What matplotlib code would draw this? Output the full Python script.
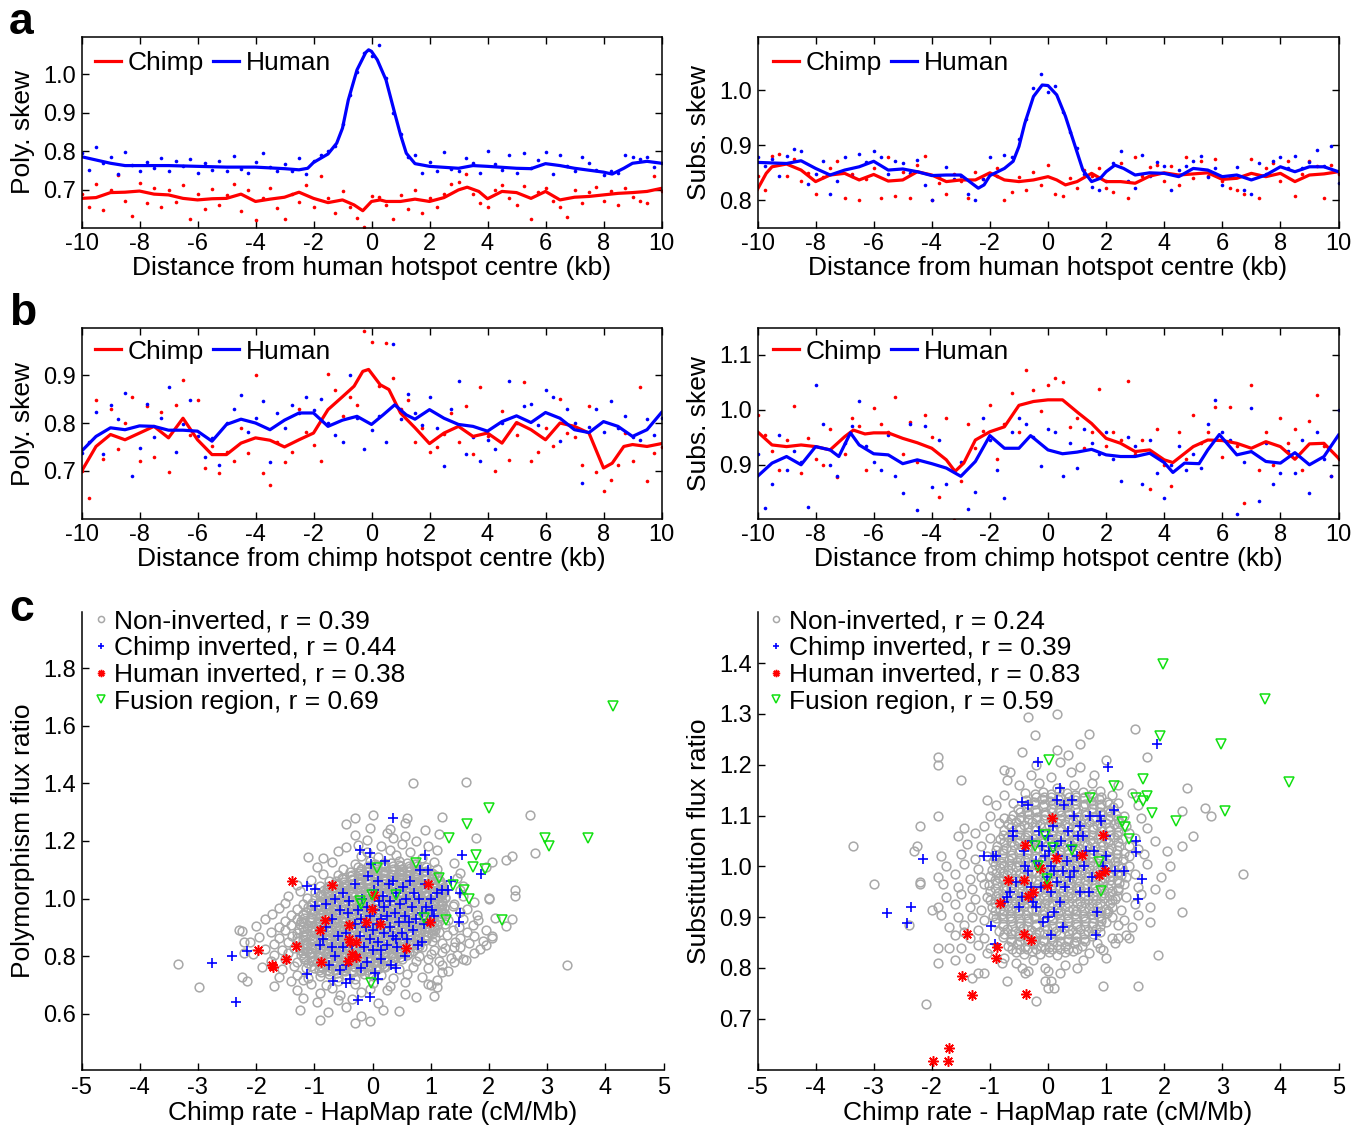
import numpy as np
import matplotlib
matplotlib.use("Agg")
import matplotlib.pyplot as plt
from matplotlib.ticker import FormatStrFormatter

plt.rcParams["font.family"] = ["Liberation Sans", "DejaVu Sans"]
plt.rcParams["axes.unicode_minus"] = False
TICK_FS = 17
LABEL_FS = 19
LEG_FS = 19
RED = (1, 0, 0)
BLUE = (0, 0, 1)
GREEN = "#11e011"
GRAY = "#a8a8a8"

# ---------------- panel a / b : smoothed skew profiles ----------------
dot_x = np.arange(-10, 10.001, 0.25)

a_poly_human_x = [-10, -9, -8.5, -8, -7, -6, -5, -4, -3, -2.5, -2.2, -2, -1.5, -1.2, -1, -0.8, -0.5, -0.2, -0.1, 0,
                  0.2, 0.5, 0.8, 1, 1.2, 1.5, 2, 3, 3.5, 4, 5, 5.5, 6, 6.5, 7, 8, 8.3, 8.7, 9, 9.5, 10]
a_poly_human_y = [0.786, 0.769, 0.763, 0.763, 0.763, 0.761, 0.759, 0.759, 0.755, 0.752, 0.756, 0.771, 0.793, 0.821,
                  0.860, 0.933, 1.011, 1.056, 1.063, 1.059, 1.037, 0.985, 0.899, 0.843, 0.795, 0.768, 0.761, 0.756,
                  0.763, 0.761, 0.756, 0.755, 0.768, 0.763, 0.756, 0.746, 0.741, 0.756, 0.769, 0.774, 0.769]
a_poly_chimp_x = [-10, -9.5, -9, -8.5, -8, -7.5, -7, -6.5, -6, -5.5, -5, -4.5, -4, -3.5, -3, -2.5, -2, -1.5, -1, -0.6,
                  -0.3, 0, 0.3, 0.5, 1, 1.5, 2, 2.5, 3, 3.3, 3.7, 4, 4.5, 5, 5.5, 6, 6.5, 7, 7.5, 8, 8.5, 9, 9.5, 10]
a_poly_chimp_y = [0.678, 0.680, 0.693, 0.694, 0.697, 0.689, 0.687, 0.678, 0.674, 0.677, 0.678, 0.689, 0.670, 0.676,
                  0.681, 0.694, 0.678, 0.667, 0.674, 0.661, 0.646, 0.670, 0.674, 0.670, 0.670, 0.676, 0.670, 0.680,
                  0.700, 0.707, 0.696, 0.677, 0.696, 0.693, 0.678, 0.696, 0.674, 0.681, 0.683, 0.687, 0.691, 0.693,
                  0.696, 0.704]
a_poly_human_dots = [0.795, 0.752, 0.810, 0.770, 0.785, 0.740, 0.798, 0.765, 0.750, 0.772, 0.758, 0.783, 0.748, 0.775,
                     0.762, 0.781, 0.745, 0.770, 0.752, 0.776, 0.750, 0.787, 0.755, 0.745, 0.772, 0.795, 0.760, 0.748,
                     0.768, 0.750, 0.782, 0.742, 0.776, 0.790, 0.800, 0.815, 0.870, 0.945, 1.005, 1.055, 1.048, 1.076,
                     0.990, 0.900, 0.845, 0.785, 0.790, 0.745, 0.772, 0.750, 0.798, 0.755, 0.748, 0.782, 0.770, 0.745,
                     0.800, 0.768, 0.752, 0.790, 0.745, 0.795, 0.758, 0.778, 0.798, 0.742, 0.790, 0.762, 0.748, 0.785,
                     0.770, 0.752, 0.738, 0.750, 0.745, 0.790, 0.785, 0.780, 0.785, 0.760, 0.770]
a_poly_chimp_dots = [0.690, 0.655, 0.715, 0.648, 0.700, 0.738, 0.672, 0.632, 0.718, 0.665, 0.705, 0.655, 0.700, 0.668,
                     0.712, 0.625, 0.690, 0.650, 0.702, 0.660, 0.688, 0.715, 0.645, 0.700, 0.622, 0.680, 0.705, 0.652,
                     0.625, 0.690, 0.668, 0.712, 0.655, 0.735, 0.680, 0.640, 0.698, 0.655, 0.628, 0.605, 0.685, 0.682,
                     0.660, 0.625, 0.688, 0.650, 0.700, 0.640, 0.678, 0.655, 0.690, 0.715, 0.720, 0.740, 0.690, 0.665,
                     0.655, 0.700, 0.712, 0.680, 0.660, 0.710, 0.625, 0.695, 0.705, 0.672, 0.655, 0.630, 0.700, 0.665,
                     0.695, 0.708, 0.672, 0.698, 0.660, 0.705, 0.682, 0.670, 0.665, 0.735, 0.698]

a_subs_human_x = [-10, -9, -8.5, -8, -7.5, -7, -6.5, -6, -5.5, -5, -4.5, -4, -3.5, -3, -2.7, -2.4, -2.2, -2, -1.5, -1.2,
                  -1, -0.8, -0.5, -0.2, 0, 0.3, 0.6, 0.9, 1.2, 1.5, 1.8, 2, 2.3, 2.6, 3, 3.5, 4, 4.5, 5, 5.5, 6, 6.5,
                  7, 7.5, 8, 8.5, 9, 9.5, 10]
a_subs_human_y = [0.869, 0.867, 0.872, 0.858, 0.846, 0.855, 0.861, 0.871, 0.855, 0.857, 0.852, 0.845, 0.846, 0.846,
                  0.834, 0.822, 0.828, 0.845, 0.858, 0.871, 0.898, 0.940, 0.989, 1.010, 1.009, 0.992, 0.953, 0.904,
                  0.855, 0.834, 0.840, 0.852, 0.864, 0.858, 0.846, 0.850, 0.849, 0.843, 0.858, 0.855, 0.843, 0.846,
                  0.837, 0.846, 0.861, 0.852, 0.861, 0.861, 0.852]
a_subs_chimp_x = [-10, -9.7, -9.5, -9, -8.5, -8, -7.5, -7, -6.5, -6, -5.5, -5, -4.5, -4, -3.5, -3, -2.5, -2, -1.5, -1,
                  -0.5, 0, 0.3, 0.6, 1, 1.5, 2, 2.5, 3, 3.5, 4, 4.5, 5, 5.5, 6, 6.5, 7, 7.5, 8, 8.5, 9, 9.5, 10]
a_subs_chimp_y = [0.820, 0.849, 0.861, 0.866, 0.855, 0.834, 0.846, 0.849, 0.837, 0.847, 0.835, 0.837, 0.852, 0.846,
                  0.834, 0.837, 0.837, 0.850, 0.837, 0.834, 0.837, 0.843, 0.837, 0.828, 0.834, 0.849, 0.834, 0.834,
                  0.831, 0.844, 0.850, 0.846, 0.848, 0.850, 0.838, 0.840, 0.849, 0.843, 0.849, 0.834, 0.846, 0.848,
                  0.852]
a_subs_human_dots = [0.878, 0.862, 0.875, 0.845, 0.880, 0.893, 0.890, 0.830, 0.848, 0.872, 0.812, 0.835, 0.878, 0.845,
                     0.885, 0.870, 0.890, 0.878, 0.848, 0.872, 0.868, 0.850, 0.873, 0.828, 0.800, 0.842, 0.860, 0.838,
                     0.845, 0.812, 0.800, 0.838, 0.878, 0.845, 0.882, 0.878, 0.912, 0.948, 1.005, 1.030, 0.998, 1.008,
                     0.960, 0.925, 0.895, 0.848, 0.825, 0.818, 0.835, 0.868, 0.890, 0.835, 0.822, 0.882, 0.845, 0.870,
                     0.862, 0.818, 0.855, 0.862, 0.872, 0.880, 0.842, 0.858, 0.828, 0.842, 0.860, 0.818, 0.812, 0.868,
                     0.848, 0.872, 0.878, 0.858, 0.880, 0.858, 0.870, 0.892, 0.862, 0.898, 0.832]
a_subs_chimp_dots = [0.845, 0.818, 0.880, 0.885, 0.845, 0.875, 0.835, 0.850, 0.812, 0.842, 0.858, 0.872, 0.805, 0.848,
                     0.800, 0.838, 0.858, 0.805, 0.878, 0.808, 0.852, 0.805, 0.865, 0.880, 0.800, 0.832, 0.812, 0.848,
                     0.835, 0.805, 0.852, 0.838, 0.848, 0.858, 0.800, 0.815, 0.842, 0.818, 0.852, 0.828, 0.865, 0.812,
                     0.808, 0.840, 0.822, 0.855, 0.845, 0.858, 0.822, 0.815, 0.868, 0.805, 0.878, 0.845, 0.860, 0.865,
                     0.835, 0.862, 0.828, 0.878, 0.840, 0.872, 0.845, 0.875, 0.835, 0.822, 0.818, 0.812, 0.875, 0.805,
                     0.858, 0.868, 0.835, 0.872, 0.808, 0.848, 0.872, 0.862, 0.805, 0.865, 0.848]

b_poly_human_x = [-10, -9.5, -9, -8.5, -8, -7.5, -7, -6.5, -6, -5.5, -5, -4.5, -4, -3.5, -3, -2.5, -2, -1.5, -1, -0.5,
                  0, 0.4, 0.8, 1.2, 1.5, 2, 2.5, 3, 3.5, 4, 4.5, 5, 5.5, 6, 6.5, 7, 7.5, 8, 8.5, 9, 9.5, 10]
b_poly_human_y = [0.741, 0.772, 0.790, 0.786, 0.794, 0.793, 0.785, 0.785, 0.783, 0.762, 0.797, 0.808, 0.800, 0.786,
                  0.806, 0.821, 0.821, 0.793, 0.806, 0.814, 0.797, 0.817, 0.838, 0.817, 0.808, 0.828, 0.810, 0.797,
                  0.793, 0.783, 0.803, 0.815, 0.801, 0.822, 0.810, 0.786, 0.780, 0.803, 0.793, 0.772, 0.786, 0.822]
b_poly_chimp_x = [-10, -9.5, -9, -8.5, -8, -7.5, -7, -6.5, -6, -5.5, -5, -4.5, -4, -3.5, -3, -2.5, -2, -1.5, -1, -0.6,
                  -0.3, -0.1, 0.3, 0.6, 1, 1.5, 2, 2.5, 3, 3.5, 4, 4.5, 5, 5.5, 6, 6.5, 7, 7.5, 8, 8.3, 8.7, 9, 9.5, 10]
b_poly_chimp_y = [0.699, 0.751, 0.776, 0.765, 0.779, 0.793, 0.769, 0.810, 0.765, 0.734, 0.734, 0.758, 0.769, 0.764,
                  0.750, 0.765, 0.779, 0.828, 0.855, 0.877, 0.908, 0.912, 0.880, 0.870, 0.821, 0.790, 0.757, 0.779,
                  0.793, 0.772, 0.779, 0.758, 0.801, 0.786, 0.765, 0.800, 0.793, 0.779, 0.706, 0.716, 0.751, 0.755,
                  0.751, 0.757]
b_poly_human_dots = [0.738, 0.760, 0.822, 0.735, 0.838, 0.808, 0.862, 0.690, 0.748, 0.840, 0.770, 0.810, 0.875, 0.740,
                     0.798, 0.848, 0.772, 0.728, 0.768, 0.712, 0.800, 0.830, 0.858, 0.782, 0.810, 0.845, 0.718, 0.820,
                     0.790, 0.838, 0.820, 0.855, 0.828, 0.850, 0.800, 0.775, 0.760, 0.900, 0.810, 0.745, 0.785, 0.815,
                     0.760, 0.966, 0.808, 0.860, 0.820, 0.795, 0.855, 0.790, 0.710, 0.830, 0.887, 0.735, 0.770, 0.720,
                     0.765, 0.745, 0.800, 0.888, 0.800, 0.835, 0.840, 0.795, 0.868, 0.855, 0.762, 0.830, 0.800, 0.674,
                     0.792, 0.830, 0.782, 0.846, 0.790, 0.815, 0.770, 0.765, 0.808, 0.775, 0.810]
b_poly_chimp_dots = [0.700, 0.643, 0.848, 0.725, 0.830, 0.745, 0.800, 0.855, 0.720, 0.835, 0.728, 0.822, 0.698, 0.838,
                     0.890, 0.775, 0.848, 0.705, 0.752, 0.695, 0.740, 0.720, 0.790, 0.738, 0.900, 0.695, 0.670, 0.760,
                     0.718, 0.740, 0.830, 0.782, 0.755, 0.720, 0.902, 0.870, 0.815, 0.855, 0.838, 0.992, 0.970, 0.878,
                     0.968, 0.895, 0.830, 0.848, 0.760, 0.790, 0.740, 0.750, 0.778, 0.820, 0.760, 0.835, 0.735, 0.875,
                     0.772, 0.700, 0.825, 0.722, 0.775, 0.885, 0.720, 0.740, 0.790, 0.752, 0.850, 0.780, 0.770, 0.712,
                     0.835, 0.698, 0.658, 0.680, 0.712, 0.780, 0.720, 0.875, 0.678, 0.738, 0.750]

b_subs_chimp_x = [-10, -9.5, -9, -8.5, -8, -7.5, -7, -6.7, -6.3, -6, -5.5, -5, -4.5, -4, -3.5, -3.2, -2.9, -2.5, -2,
                  -1.5, -1, -0.5, 0, 0.5, 1, 1.5, 2, 2.5, 3, 3.5, 4, 4.3, 5, 5.5, 6, 6.5, 7, 7.5, 8, 8.5, 9, 9.5, 10]
b_subs_chimp_y = [0.960, 0.936, 0.933, 0.936, 0.933, 0.927, 0.951, 0.963, 0.956, 0.958, 0.958, 0.948, 0.940, 0.930,
                  0.909, 0.888, 0.903, 0.945, 0.960, 0.969, 1.008, 1.015, 1.018, 1.018, 0.996, 0.975, 0.948, 0.939,
                  0.924, 0.927, 0.909, 0.904, 0.933, 0.945, 0.944, 0.939, 0.930, 0.942, 0.933, 0.910, 0.938, 0.939,
                  0.912]
b_subs_human_x = [-10, -9.5, -9, -8.5, -8, -7.5, -7.2, -6.8, -6.5, -6, -5.5, -5, -4.5, -4, -3.5, -3, -2.5, -2, -1.5,
                  -1, -0.6, 0, 0.5, 1, 1.5, 2, 2.5, 3, 3.5, 4, 4.3, 4.7, 5.2, 5.5, 5.9, 6.5, 7, 7.5, 8, 8.5, 9, 9.5, 10]
b_subs_human_y = [0.879, 0.903, 0.915, 0.900, 0.933, 0.927, 0.915, 0.958, 0.936, 0.920, 0.918, 0.902, 0.909, 0.902,
                  0.894, 0.879, 0.906, 0.953, 0.930, 0.930, 0.953, 0.927, 0.920, 0.923, 0.928, 0.918, 0.915, 0.915,
                  0.921, 0.904, 0.886, 0.903, 0.902, 0.927, 0.955, 0.918, 0.924, 0.906, 0.903, 0.922, 0.900, 0.915,
                  0.954]
b_subs_human_dots = [0.920, 0.822, 0.865, 0.955, 0.890, 0.925, 0.905, 0.824, 1.045, 0.975, 0.900, 0.880, 0.940, 0.970,
                     1.015, 0.935, 0.905, 0.890, 0.955, 0.880, 0.848, 0.975, 0.818, 0.970, 0.860, 0.945, 0.865, 0.890,
                     0.905, 0.820, 0.850, 0.985, 0.945, 0.890, 0.840, 0.960, 0.985, 0.975, 0.950, 0.898, 0.965, 0.960,
                     0.880, 0.940, 0.895, 0.965, 0.940, 0.920, 0.960, 0.910, 0.870, 0.950, 0.935, 0.865, 0.945, 0.885,
                     0.840, 0.900, 0.935, 0.890, 0.920, 0.895, 0.975, 1.018, 0.960, 0.945, 0.810, 0.905, 1.003, 0.835,
                     0.940, 0.865, 0.885, 0.925, 0.885, 0.945, 0.849, 0.960, 0.910, 0.880, 1.000]
b_subs_chimp_dots = [0.990, 0.955, 0.925, 0.890, 0.945, 1.006, 0.885, 0.948, 0.910, 0.900, 0.965, 0.878, 0.920, 0.985,
                     0.970, 0.890, 1.004, 0.975, 0.960, 1.024, 0.920, 0.978, 0.905, 0.990, 0.950, 0.842, 0.985, 0.800,
                     0.870, 0.975, 0.930, 0.962, 1.008, 0.910, 0.975, 1.030, 0.960, 1.072, 1.035, 0.998, 1.045, 1.058,
                     1.050, 0.968, 0.985, 0.930, 0.960, 1.038, 0.935, 0.960, 0.945, 1.052, 0.920, 0.945, 0.856, 0.965,
                     0.900, 0.862, 0.960, 0.910, 0.990, 0.940, 0.960, 1.005, 0.915, 1.005, 0.935, 0.830, 1.045, 0.890,
                     0.960, 0.900, 0.985, 0.940, 0.965, 0.890, 0.980, 1.026, 0.935, 0.880, 0.910]

# ---------------- panel c : flux ratio vs rate difference ----------------
# non-inverted regions, outer scatter
poly_noninv = [
    (-0.30, 0.566), (-0.90, 0.578), (-0.05, 0.575), (-0.20, 0.592), (-0.77, 0.605), (-1.25, 0.612), (0.45, 0.610),
    (0.18, 0.614), (-0.45, 0.622), (-0.95, 0.641), (-0.60, 0.646), (0.10, 0.638), (1.05, 0.660), (-0.35, 0.652),
    (-1.20, 0.655), (-1.30, 0.683), (-0.90, 0.672), (-0.55, 0.664), (-0.20, 0.676), (0.25, 0.681), (0.55, 0.668),
    (0.75, 0.659), (1.00, 0.698), (1.10, 0.691), (-0.05, 0.684), (-0.70, 0.688), (-1.70, 0.697), (-1.40, 0.712),
    (-1.05, 0.704), (-0.80, 0.699), (-0.60, 0.713), (-0.30, 0.702), (0.00, 0.706), (0.30, 0.696), (0.55, 0.711),
    (0.95, 0.703), (1.10, 0.718), (-2.15, 0.712), (-2.25, 0.726), (-1.20, 0.715), (-1.60, 0.728), (-1.30, 0.735),
    (-1.10, 0.722), (-0.90, 0.731), (-0.75, 0.738), (-0.60, 0.726), (-0.45, 0.734), (-0.30, 0.721), (-0.15, 0.737),
    (0.00, 0.729), (0.15, 0.733), (0.35, 0.724), (0.60, 0.739), (0.85, 0.727), (1.20, 0.745), (1.30, 0.748),
    (-1.90, 0.762), (-1.55, 0.755), (-1.35, 0.764), (-1.15, 0.757), (0.45, 0.755), (0.70, 0.763), (0.95, 0.758),
    (1.20, 0.768), (1.40, 0.779), (-1.75, 0.782), (-1.50, 0.788), (-1.30, 0.779), (0.75, 0.781), (0.95, 0.789),
    (1.15, 0.784), (1.35, 0.792), (1.60, 0.787), (-2.05, 0.808), (-1.70, 0.802), (-1.45, 0.809), (0.80, 0.800),
    (1.00, 0.807), (1.20, 0.813), (1.45, 0.804), (1.75, 0.809), (-1.85, 0.826), (-1.55, 0.821), (-1.35, 0.829),
    (0.85, 0.830), (1.05, 0.820), (1.25, 0.827), (1.50, 0.833), (1.85, 0.826), (-2.10, 0.848), (-1.70, 0.843),
    (-1.45, 0.850), (1.02, 0.853), (1.20, 0.844), (1.42, 0.850), (1.65, 0.845), (1.90, 0.852), (-1.95, 0.866),
    (-1.60, 0.861), (-1.38, 0.869), (1.08, 0.867), (1.28, 0.873), (1.50, 0.862), (1.75, 0.869), (2.05, 0.864),
    (-2.25, 0.888), (-1.75, 0.883), (-1.50, 0.890), (1.15, 0.884), (1.38, 0.890), (1.62, 0.885), (1.95, 0.892),
    (-2.00, 0.906), (-1.60, 0.901), (-1.40, 0.909), (1.25, 0.913), (1.48, 0.902), (1.72, 0.909), (2.30, 0.904),
    (-1.85, 0.928), (-1.50, 0.923), (-1.30, 0.930), (1.30, 0.924), (1.55, 0.930), (1.82, 0.925), (2.10, 0.932),
    (-1.72, 0.946), (-1.40, 0.941), (1.25, 0.947), (1.50, 0.953), (1.80, 0.942), (-1.60, 0.968), (-1.30, 0.963),
    (1.38, 0.973), (1.62, 0.964), (2.40, 0.930), (-1.50, 0.986), (-1.20, 0.981), (1.40, 0.980), (1.75, 0.987),
    (-1.45, 1.008), (-1.12, 1.003), (1.25, 1.001), (1.55, 1.008), (2.00, 1.003), (-1.25, 1.026), (-0.98, 1.021),
    (1.22, 1.024), (1.50, 1.030), (-1.30, 1.048), (-0.90, 1.043), (1.20, 1.049), (1.55, 1.044), (-1.05, 1.066),
    (-0.75, 1.061), (1.15, 1.063), (1.45, 1.070), (-0.85, 1.086), (-0.60, 1.081), (1.10, 1.079), (1.50, 1.088),
    (-0.95, 1.108), (-0.50, 1.103), (-0.25, 1.110), (1.10, 1.104), (1.95, 1.110), (2.05, 1.128), (-0.70, 1.126),
    (-0.30, 1.121), (-0.05, 1.129), (0.20, 1.123), (0.45, 1.130), (0.72, 1.120), (1.05, 1.127), (1.40, 1.122),
    (-1.10, 1.146), (-0.85, 1.141), (-0.20, 1.149), (0.10, 1.143), (0.40, 1.150), (0.85, 1.140), (2.40, 1.147),
    (2.30, 1.133), (-0.60, 1.166), (-0.10, 1.161), (0.30, 1.169), (0.65, 1.163), (1.10, 1.170), (2.80, 1.160),
    (-0.25, 1.186), (0.15, 1.181), (0.50, 1.189), (0.95, 1.183), (-0.45, 1.178), (-0.10, 1.205), (0.35, 1.212),
    (0.75, 1.201), (1.78, 1.210), (-0.30, 1.222), (0.25, 1.228), (0.55, 1.219), (1.15, 1.226), (0.30, 1.242),
    (0.90, 1.238), (-0.05, 1.245), (-0.45, 1.258), (0.55, 1.262), (-0.30, 1.281), (0.60, 1.279), (1.20, 1.285),
    (2.70, 1.290), (0.00, 1.290), (0.70, 1.400), (1.60, 1.405), (-3.35, 0.773), (-2.98, 0.692), (-2.30, 0.890),
    (-2.20, 0.850), (-2.20, 0.810), (3.35, 0.770), (2.45, 1.030), (2.45, 1.010), (2.00, 1.000), (2.05, 0.870),
    (1.95, 0.840), (1.40, 0.830), (1.55, 0.790)]
# non-inverted regions, dense centre of the cloud
poly_noninv_core = [
    (-0.88, 0.743), (-0.74, 0.748), (-0.61, 0.742), (-0.47, 0.747), (-0.33, 0.744), (-0.20, 0.749), (-0.06, 0.742),
    (-1.01, 0.759), (-0.87, 0.762), (-0.72, 0.757), (-0.58, 0.763), (-0.45, 0.758), (-0.30, 0.761), (-0.16, 0.756),
    (-0.02, 0.762), (0.12, 0.759), (0.22, 0.763), (-1.10, 0.774), (-0.96, 0.778), (-0.82, 0.772), (-0.67, 0.777),
    (-0.53, 0.773), (-0.39, 0.779), (-0.25, 0.774), (-0.11, 0.771), (0.03, 0.777), (0.17, 0.772), (0.31, 0.776),
    (-1.17, 0.791), (-1.03, 0.787), (-0.89, 0.793), (-0.75, 0.788), (-0.61, 0.792), (-0.46, 0.786), (-0.32, 0.791),
    (-0.18, 0.794), (-0.04, 0.788), (0.10, 0.792), (0.24, 0.787), (0.38, 0.793), (0.50, 0.789), (-1.22, 0.803),
    (-1.08, 0.807), (-0.94, 0.802), (-0.80, 0.808), (-0.66, 0.804), (-0.52, 0.801), (-0.38, 0.806), (-0.24, 0.803),
    (-0.10, 0.809), (0.04, 0.804), (0.18, 0.807), (0.32, 0.802), (0.46, 0.806), (0.60, 0.803), (-1.25, 0.821),
    (-1.12, 0.817), (-0.98, 0.823), (-0.84, 0.818), (-0.70, 0.822), (-0.56, 0.816), (-0.42, 0.821), (-0.28, 0.824),
    (-0.14, 0.818), (0.00, 0.822), (0.14, 0.817), (0.28, 0.823), (0.42, 0.819), (0.56, 0.822), (0.70, 0.817),
    (-1.27, 0.833), (-1.13, 0.837), (-0.99, 0.832), (-0.85, 0.838), (-0.71, 0.834), (-0.57, 0.831), (-0.43, 0.836),
    (-0.29, 0.833), (-0.15, 0.839), (-0.01, 0.834), (0.13, 0.837), (0.27, 0.832), (0.41, 0.836), (0.55, 0.833),
    (0.69, 0.838), (0.80, 0.834), (-1.28, 0.851), (-1.14, 0.847), (-1.00, 0.853), (-0.86, 0.848), (-0.72, 0.852),
    (-0.58, 0.846), (-0.44, 0.851), (-0.30, 0.854), (-0.16, 0.848), (-0.02, 0.852), (0.12, 0.847), (0.26, 0.853),
    (0.40, 0.849), (0.54, 0.852), (0.68, 0.847), (0.82, 0.851), (0.92, 0.855), (-1.30, 0.863), (-1.16, 0.867),
    (-1.02, 0.862), (-0.88, 0.868), (-0.74, 0.864), (-0.60, 0.861), (-0.46, 0.866), (-0.32, 0.863), (-0.18, 0.869),
    (-0.04, 0.864), (0.10, 0.867), (0.24, 0.862), (0.38, 0.866), (0.52, 0.863), (0.66, 0.868), (0.80, 0.864),
    (0.94, 0.866), (-1.29, 0.881), (-1.15, 0.877), (-1.01, 0.883), (-0.87, 0.878), (-0.73, 0.882), (-0.59, 0.876),
    (-0.45, 0.881), (-0.31, 0.884), (-0.17, 0.878), (-0.03, 0.882), (0.11, 0.877), (0.25, 0.883), (0.39, 0.879),
    (0.53, 0.882), (0.67, 0.877), (0.81, 0.881), (0.95, 0.884), (1.02, 0.878), (-1.27, 0.893), (-1.13, 0.897),
    (-0.99, 0.892), (-0.85, 0.898), (-0.71, 0.894), (-0.57, 0.891), (-0.43, 0.896), (-0.29, 0.893), (-0.15, 0.899),
    (-0.01, 0.894), (0.13, 0.897), (0.27, 0.892), (0.41, 0.896), (0.55, 0.893), (0.69, 0.898), (0.83, 0.894),
    (0.97, 0.897), (1.07, 0.892), (-1.25, 0.911), (-1.11, 0.907), (-0.97, 0.913), (-0.83, 0.908), (-0.69, 0.912),
    (-0.55, 0.906), (-0.41, 0.911), (-0.27, 0.914), (-0.13, 0.908), (0.01, 0.912), (0.15, 0.907), (0.29, 0.913),
    (0.43, 0.909), (0.57, 0.912), (0.71, 0.907), (0.85, 0.911), (0.99, 0.914), (1.11, 0.908), (-1.22, 0.923),
    (-1.08, 0.927), (-0.94, 0.922), (-0.80, 0.928), (-0.66, 0.924), (-0.52, 0.921), (-0.38, 0.926), (-0.24, 0.923),
    (-0.10, 0.929), (0.04, 0.924), (0.18, 0.927), (0.32, 0.922), (0.46, 0.926), (0.60, 0.923), (0.74, 0.928),
    (0.88, 0.924), (1.02, 0.927), (1.14, 0.922), (-1.19, 0.941), (-1.05, 0.937), (-0.91, 0.943), (-0.77, 0.938),
    (-0.63, 0.942), (-0.49, 0.936), (-0.35, 0.941), (-0.21, 0.944), (-0.07, 0.938), (0.07, 0.942), (0.21, 0.937),
    (0.35, 0.943), (0.49, 0.939), (0.63, 0.942), (0.77, 0.937), (0.91, 0.941), (1.05, 0.944), (1.17, 0.938),
    (-1.14, 0.953), (-1.00, 0.957), (-0.86, 0.952), (-0.72, 0.958), (-0.58, 0.954), (-0.44, 0.951), (-0.30, 0.956),
    (-0.16, 0.953), (-0.02, 0.959), (0.12, 0.954), (0.26, 0.957), (0.40, 0.952), (0.54, 0.956), (0.68, 0.953),
    (0.82, 0.958), (0.96, 0.954), (1.10, 0.957), (1.21, 0.952), (-1.10, 0.971), (-0.96, 0.967), (-0.82, 0.973),
    (-0.68, 0.968), (-0.54, 0.972), (-0.40, 0.966), (-0.26, 0.971), (-0.12, 0.974), (0.02, 0.968), (0.16, 0.972),
    (0.30, 0.967), (0.44, 0.973), (0.58, 0.969), (0.72, 0.972), (0.86, 0.967), (1.00, 0.971), (1.14, 0.974),
    (1.23, 0.968), (-1.04, 0.983), (-0.90, 0.987), (-0.76, 0.982), (-0.62, 0.988), (-0.48, 0.984), (-0.34, 0.981),
    (-0.20, 0.986), (-0.06, 0.983), (0.08, 0.989), (0.22, 0.984), (0.36, 0.987), (0.50, 0.982), (0.64, 0.986),
    (0.78, 0.983), (0.92, 0.988), (1.06, 0.984), (1.20, 0.987), (-0.98, 1.001), (-0.84, 0.997), (-0.70, 1.003),
    (-0.56, 0.998), (-0.42, 1.002), (-0.28, 0.996), (-0.14, 1.001), (0.00, 1.004), (0.14, 0.998), (0.28, 1.002),
    (0.42, 0.997), (0.56, 1.003), (0.70, 0.999), (0.84, 1.002), (0.98, 0.997), (1.12, 1.001), (1.24, 1.004),
    (-0.91, 1.013), (-0.77, 1.017), (-0.63, 1.012), (-0.49, 1.018), (-0.35, 1.014), (-0.21, 1.011), (-0.07, 1.016),
    (0.07, 1.013), (0.21, 1.019), (0.35, 1.014), (0.49, 1.017), (0.63, 1.012), (0.77, 1.016), (0.91, 1.013),
    (1.05, 1.018), (1.19, 1.014), (-0.83, 1.031), (-0.69, 1.027), (-0.55, 1.033), (-0.41, 1.028), (-0.27, 1.032),
    (-0.13, 1.026), (0.01, 1.031), (0.15, 1.034), (0.29, 1.028), (0.43, 1.032), (0.57, 1.027), (0.71, 1.033),
    (0.85, 1.029), (0.99, 1.032), (1.13, 1.027), (1.22, 1.031), (-0.74, 1.043), (-0.60, 1.047), (-0.46, 1.042),
    (-0.32, 1.048), (-0.18, 1.044), (-0.04, 1.041), (0.10, 1.046), (0.24, 1.043), (0.38, 1.049), (0.52, 1.044),
    (0.66, 1.047), (0.80, 1.042), (0.94, 1.046), (1.08, 1.043), (1.19, 1.048), (-0.63, 1.061), (-0.49, 1.057),
    (-0.35, 1.063), (-0.21, 1.058), (-0.07, 1.062), (0.07, 1.056), (0.21, 1.061), (0.35, 1.064), (0.49, 1.058),
    (0.63, 1.062), (0.77, 1.057), (0.91, 1.063), (1.05, 1.059), (1.16, 1.062), (-0.52, 1.073), (-0.38, 1.077),
    (-0.24, 1.072), (-0.10, 1.078), (0.04, 1.074), (0.18, 1.071), (0.32, 1.076), (0.46, 1.073), (0.60, 1.079),
    (0.74, 1.074), (0.88, 1.077), (1.02, 1.072), (1.11, 1.076), (-0.38, 1.091), (-0.24, 1.087), (-0.10, 1.093),
    (0.04, 1.088), (0.18, 1.092), (0.32, 1.086), (0.46, 1.091), (0.60, 1.094), (0.74, 1.088), (0.88, 1.092),
    (1.02, 1.087), (-0.20, 1.103), (-0.06, 1.107), (0.08, 1.102), (0.22, 1.108), (0.36, 1.104), (0.50, 1.101),
    (0.64, 1.106), (0.78, 1.103), (0.92, 1.108), (0.04, 1.121), (0.18, 1.117), (0.32, 1.123), (0.46, 1.118),
    (0.60, 1.122), (0.74, 1.119)]
# further centre points, one flux value per row of rate differences
poly_noninv_rows = [
    (0.752, [-0.92, -0.78, -0.62, -0.49, -0.36, -0.21, -0.08, 0.06]),
    (0.767, [-1.05, -0.90, -0.77, -0.64, -0.49, -0.34, -0.21, -0.07, 0.08, 0.20]),
    (0.782, [-1.04, -0.91, -0.78, -0.63, -0.48, -0.35, -0.22, -0.06, 0.07, 0.22, 0.36]),
    (0.797, [-1.18, -1.05, -0.92, -0.77, -0.62, -0.49, -0.36, -0.20, -0.07, 0.06, 0.21, 0.35, 0.48]),
    (0.812, [-1.20, -1.04, -0.91, -0.78, -0.63, -0.48, -0.35, -0.22, -0.06, 0.08, 0.21, 0.34, 0.49, 0.62]),
    (0.827, [-1.19, -1.06, -0.90, -0.77, -0.64, -0.49, -0.34, -0.21, -0.08, 0.07, 0.22, 0.35, 0.48, 0.63, 0.76]),
    (0.842, [-1.18, -1.05, -0.92, -0.76, -0.63, -0.50, -0.35, -0.20, -0.07, 0.06, 0.21, 0.36, 0.49, 0.62, 0.78]),
    (0.857, [-1.20, -1.04, -0.91, -0.78, -0.62, -0.49, -0.36, -0.21, -0.06, 0.07, 0.20, 0.35, 0.50, 0.63, 0.76,
             0.90]),
    (0.872, [-1.19, -1.06, -0.90, -0.77, -0.64, -0.48, -0.35, -0.22, -0.07, 0.08, 0.21, 0.34, 0.49, 0.64, 0.77,
             0.92]),
    (0.887, [-1.18, -1.05, -0.92, -0.76, -0.63, -0.50, -0.35, -0.20, -0.07, 0.06, 0.21, 0.36, 0.49, 0.62, 0.77,
             0.91, 1.04]),
    (0.902, [-1.20, -1.04, -0.91, -0.78, -0.62, -0.49, -0.36, -0.21, -0.06, 0.07, 0.20, 0.35, 0.50, 0.63, 0.76,
             0.90, 1.06]),
    (0.917, [-1.19, -1.06, -0.90, -0.77, -0.64, -0.48, -0.35, -0.22, -0.07, 0.08, 0.21, 0.34, 0.49, 0.64, 0.77,
             0.92, 1.05]),
    (0.932, [-1.18, -1.05, -0.92, -0.76, -0.63, -0.50, -0.35, -0.20, -0.07, 0.06, 0.21, 0.36, 0.49, 0.62, 0.77,
             0.91, 1.04]),
    (0.947, [-1.19, -1.04, -0.91, -0.78, -0.62, -0.49, -0.36, -0.21, -0.06, 0.07, 0.20, 0.35, 0.50, 0.63, 0.76,
             0.90, 1.06, 1.19]),
    (0.962, [-1.06, -0.90, -0.77, -0.64, -0.48, -0.35, -0.22, -0.07, 0.08, 0.21, 0.34, 0.49, 0.64, 0.77, 0.92,
             1.05, 1.18]),
    (0.977, [-1.05, -0.92, -0.76, -0.63, -0.50, -0.35, -0.20, -0.07, 0.06, 0.21, 0.36, 0.49, 0.62, 0.77, 0.91,
             1.04, 1.20]),
    (0.992, [-0.91, -0.78, -0.62, -0.49, -0.36, -0.21, -0.06, 0.07, 0.20, 0.35, 0.50, 0.63, 0.76, 0.90, 1.06,
             1.19]),
    (1.007, [-0.90, -0.77, -0.64, -0.48, -0.35, -0.22, -0.07, 0.08, 0.21, 0.34, 0.49, 0.64, 0.77, 0.92, 1.05,
             1.18]),
    (1.022, [-0.76, -0.63, -0.50, -0.35, -0.20, -0.07, 0.06, 0.21, 0.36, 0.49, 0.62, 0.77, 0.91, 1.04, 1.20]),
    (1.037, [-0.78, -0.62, -0.49, -0.36, -0.21, -0.06, 0.07, 0.20, 0.35, 0.50, 0.63, 0.76, 0.90, 1.06, 1.19]),
    (1.052, [-0.64, -0.48, -0.35, -0.22, -0.07, 0.08, 0.21, 0.34, 0.49, 0.64, 0.77, 0.92, 1.05, 1.18]),
    (1.067, [-0.50, -0.35, -0.20, -0.07, 0.06, 0.21, 0.36, 0.49, 0.62, 0.77, 0.91, 1.04]),
    (1.082, [-0.36, -0.21, -0.06, 0.07, 0.20, 0.35, 0.50, 0.63, 0.76, 0.90, 1.06]),
    (1.097, [-0.22, -0.07, 0.08, 0.21, 0.34, 0.49, 0.64, 0.77, 0.92]),
    (1.112, [-0.07, 0.06, 0.21, 0.36, 0.49, 0.62, 0.77]),
]
poly_chimp_inv = [
    (-2.76, 0.774), (-2.41, 0.800), (-2.15, 0.818), (-2.35, 0.641), (-1.13, 1.043), (-0.98, 1.034), (-0.98, 0.973),
    (0.36, 1.280), (-0.22, 1.167), (-0.05, 1.158), (0.90, 1.153), (1.54, 1.151), (1.87, 1.086), (-0.25, 0.646),
    (-0.05, 0.658), (-1.13, 0.736), (-0.68, 0.713), (-0.46, 0.706), (1.48, 0.918), (1.51, 0.951),
    (-0.90, 0.84), (-0.85, 0.86), (-0.80, 0.90), (-0.75, 0.77), (-0.70, 0.93), (-0.65, 0.80), (-0.60, 0.87),
    (-0.55, 0.96), (-0.55, 0.75), (-0.50, 0.83), (-0.50, 1.02), (-0.45, 0.88), (-0.45, 0.77), (-0.42, 0.95),
    (-0.40, 0.99), (-0.38, 0.72), (-0.35, 0.84), (-0.30, 0.91), (-0.30, 1.05), (-0.28, 0.80), (-0.25, 0.96),
    (-0.22, 0.87), (-0.20, 0.93), (-0.20, 0.76), (-0.18, 1.00), (-0.15, 0.83), (-0.12, 0.90), (-0.10, 0.97),
    (-0.10, 0.78), (-0.08, 1.08), (-0.05, 0.86), (-0.05, 0.94), (-0.02, 1.12), (0.00, 0.89), (0.00, 0.82),
    (0.02, 1.03), (0.05, 0.96), (0.05, 0.74), (0.08, 0.91), (0.10, 0.85), (0.10, 1.06), (0.12, 0.99), (0.15, 0.93),
    (0.15, 0.79), (0.18, 1.01), (0.20, 0.88), (0.20, 0.97), (0.22, 1.13), (0.25, 0.84), (0.25, 0.94), (0.28, 1.05),
    (0.30, 0.90), (0.30, 0.99), (0.32, 0.77), (0.35, 1.06), (0.35, 0.87), (0.38, 0.95), (0.40, 1.02), (0.42, 0.83),
    (0.45, 0.92), (0.48, 0.98), (0.50, 0.88), (0.52, 1.04), (0.55, 0.94), (0.55, 0.80), (0.58, 1.00), (0.60, 0.86),
    (0.62, 0.92), (0.65, 1.06), (0.68, 0.97), (0.70, 0.89), (0.72, 1.02), (0.75, 0.93), (0.78, 0.84), (0.80, 1.00),
    (0.82, 1.10), (0.85, 0.95), (0.88, 0.91), (0.90, 1.05), (0.92, 0.97), (0.95, 1.10), (0.98, 0.92), (1.00, 1.00),
    (1.02, 0.96), (1.05, 0.94), (1.10, 1.02), (1.20, 1.03), (1.30, 1.03), (1.35, 1.06), (1.50, 1.02), (0.85, 0.85),
    (0.40, 0.76), (-0.70, 0.83), (-0.80, 0.98), (-0.65, 1.00), (0.10, 0.72), (0.15, 0.82), (0.40, 0.86)]
poly_human_inv = [
    (-1.39, 1.061), (-0.69, 1.047), (0.95, 1.051), (0.02, 1.011), (-0.82, 0.924), (-0.41, 0.908), (-0.12, 0.918),
    (0.13, 0.911), (-0.01, 0.963), (0.98, 0.918), (-0.90, 0.890), (-0.40, 0.860), (-0.39, 0.848), (-0.29, 0.848),
    (-1.31, 0.834), (-1.97, 0.820), (0.57, 0.828), (-0.35, 0.806), (-0.28, 0.798), (-1.48, 0.790), (-0.88, 0.778),
    (-0.42, 0.782), (-1.72, 0.770), (-1.71, 0.761)]
poly_fusion = [
    (4.13, 1.670), (2.00, 1.314), (1.62, 1.260), (1.32, 1.210), (2.97, 1.212), (3.04, 1.182), (3.71, 1.210),
    (1.77, 1.153), (1.72, 1.110), (1.93, 1.104), (0.74, 1.125), (0.08, 1.107), (1.14, 1.071), (1.39, 1.047),
    (1.57, 1.029), (1.65, 0.999), (0.40, 1.011), (-0.01, 1.011), (-0.22, 0.990), (-0.19, 0.981), (0.89, 0.933),
    (1.26, 0.924), (2.22, 0.927), (-0.03, 0.707)]

subs_noninv = [
    (-0.20, 0.735), (0.00, 0.760), (0.10, 0.760), (0.05, 0.775), (-0.05, 0.775), (0.95, 0.765), (1.55, 0.765),
    (-0.70, 0.775), (-0.35, 0.795), (-0.45, 0.800), (0.20, 0.790), (0.50, 0.800), (-0.05, 0.800), (-1.20, 0.790),
    (-1.10, 0.790), (-1.30, 0.780), (0.00, 0.795), (-0.80, 0.810), (-1.60, 0.815), (-1.90, 0.810), (-1.70, 0.840),
    (-1.90, 0.840), (-1.35, 0.820), (-1.05, 0.830), (-0.75, 0.820), (0.70, 0.830), (0.95, 0.835), (1.90, 0.825),
    (1.20, 0.860), (0.90, 0.840), (-1.50, 0.840), (-1.20, 0.845), (-1.00, 0.840), (0.85, 0.850), (1.15, 0.850),
    (1.40, 0.860), (-1.60, 0.865), (-1.35, 0.860), (-1.10, 0.860), (0.90, 0.870), (1.10, 0.860), (1.35, 0.865),
    (-1.45, 0.870), (-2.40, 0.885), (-1.70, 0.880), (-1.45, 0.885), (-1.20, 0.875), (1.00, 0.890), (1.20, 0.885),
    (1.45, 0.880), (1.75, 0.890), (-1.85, 0.905), (-1.55, 0.900), (-1.30, 0.900), (-1.10, 0.895), (1.10, 0.900),
    (1.30, 0.895), (1.55, 0.905), (2.30, 0.910), (-2.00, 0.915), (-1.90, 0.920), (-1.60, 0.925), (-1.35, 0.920),
    (-1.15, 0.915), (1.25, 0.915), (1.50, 0.925), (1.75, 0.920), (-1.75, 0.940), (-1.50, 0.945), (-1.25, 0.935),
    (-1.05, 0.940), (1.15, 0.935), (1.35, 0.940), (1.60, 0.945), (2.10, 0.945), (-2.20, 0.965), (-3.00, 0.965),
    (-2.20, 0.970), (-1.80, 0.965), (-1.55, 0.960), (-1.30, 0.955), (-1.10, 0.965), (1.30, 0.965), (1.55, 0.960),
    (1.85, 0.955), (-1.90, 0.980), (-1.60, 0.985), (-1.35, 0.975), (-1.15, 0.980), (1.35, 0.980), (1.50, 0.985),
    (1.95, 0.980), (3.35, 0.985), (-1.75, 1.000), (-1.45, 1.005), (-1.20, 0.995), (1.40, 1.000), (1.70, 1.005),
    (2.10, 1.000), (-1.85, 1.020), (-1.50, 1.025), (-1.25, 1.015), (-1.05, 1.020), (1.40, 1.020), (1.65, 1.025),
    (2.05, 1.030), (-2.30, 1.030), (-2.25, 1.040), (-3.35, 1.040), (-1.40, 1.045), (-1.15, 1.040), (1.40, 1.040),
    (1.55, 1.035), (1.85, 1.050), (2.30, 1.040), (-1.55, 1.060), (-1.25, 1.065), (-1.00, 1.055), (1.40, 1.065),
    (1.50, 1.055), (2.50, 1.060), (-2.20, 1.080), (-1.45, 1.075), (-1.10, 1.080), (-0.85, 1.085), (1.35, 1.080),
    (1.70, 1.075), (-1.90, 1.100), (-1.00, 1.100), (-0.75, 1.095), (1.30, 1.100), (1.60, 1.095), (2.30, 1.110),
    (2.70, 1.115), (2.80, 1.100), (-0.90, 1.120), (-0.60, 1.125), (1.20, 1.125), (1.55, 1.120), (-1.05, 1.130),
    (-0.75, 1.140), (-0.40, 1.145), (1.10, 1.140), (1.45, 1.145), (-1.50, 1.170), (2.40, 1.155), (-0.50, 1.160),
    (-0.15, 1.165), (0.15, 1.155), (0.45, 1.160), (0.75, 1.165), (1.20, 1.160), (-0.70, 1.170), (-0.65, 1.185),
    (-0.30, 1.180), (0.05, 1.175), (0.40, 1.185), (0.80, 1.180), (1.70, 1.215), (-1.90, 1.215), (-1.90, 1.200),
    (-0.20, 1.200), (0.20, 1.205), (0.55, 1.195), (1.00, 1.210), (-0.75, 1.190), (0.35, 1.220), (0.70, 1.260),
    (-0.23, 1.258), (0.15, 1.230), (-0.45, 1.225), (-0.35, 1.295), (0.15, 1.300), (1.50, 1.270), (0.55, 1.240),
    (-2.10, 0.730), (-0.40, 0.790), (0.30, 0.805), (-0.55, 0.810), (0.60, 0.815), (-0.25, 0.815), (1.00, 0.820)]
subs_noninv_core = [
    (-0.55, 0.831), (-0.41, 0.827), (-0.27, 0.833), (-0.13, 0.828), (0.01, 0.832), (0.15, 0.826), (0.29, 0.831),
    (0.43, 0.834), (-0.68, 0.843), (-0.54, 0.847), (-0.40, 0.842), (-0.26, 0.848), (-0.12, 0.844), (0.02, 0.841),
    (0.16, 0.846), (0.30, 0.843), (0.44, 0.849), (0.58, 0.844), (-0.78, 0.861), (-0.64, 0.857), (-0.50, 0.863),
    (-0.36, 0.858), (-0.22, 0.862), (-0.08, 0.856), (0.06, 0.861), (0.20, 0.864), (0.34, 0.858), (0.48, 0.862),
    (0.62, 0.857), (0.76, 0.863), (-0.85, 0.873), (-0.71, 0.877), (-0.57, 0.872), (-0.43, 0.878), (-0.29, 0.874),
    (-0.15, 0.871), (-0.01, 0.876), (0.13, 0.873), (0.27, 0.879), (0.41, 0.874), (0.55, 0.877), (0.69, 0.872),
    (0.83, 0.876), (-0.91, 0.891), (-0.77, 0.887), (-0.63, 0.893), (-0.49, 0.888), (-0.35, 0.892), (-0.21, 0.886),
    (-0.07, 0.891), (0.07, 0.894), (0.21, 0.888), (0.35, 0.892), (0.49, 0.887), (0.63, 0.893), (0.77, 0.889),
    (0.91, 0.892), (-0.94, 0.903), (-0.80, 0.907), (-0.66, 0.902), (-0.52, 0.908), (-0.38, 0.904), (-0.24, 0.901),
    (-0.10, 0.906), (0.04, 0.903), (0.18, 0.909), (0.32, 0.904), (0.46, 0.907), (0.60, 0.902), (0.74, 0.906),
    (0.88, 0.903), (1.02, 0.908), (-0.97, 0.921), (-0.83, 0.917), (-0.69, 0.923), (-0.55, 0.918), (-0.41, 0.922),
    (-0.27, 0.916), (-0.13, 0.921), (0.01, 0.924), (0.15, 0.918), (0.29, 0.922), (0.43, 0.917), (0.57, 0.923),
    (0.71, 0.919), (0.85, 0.922), (0.99, 0.917), (1.10, 0.921), (-0.99, 0.933), (-0.85, 0.937), (-0.71, 0.932),
    (-0.57, 0.938), (-0.43, 0.934), (-0.29, 0.931), (-0.15, 0.936), (-0.01, 0.933), (0.13, 0.939), (0.27, 0.934),
    (0.41, 0.937), (0.55, 0.932), (0.69, 0.936), (0.83, 0.933), (0.97, 0.938), (1.11, 0.934), (-1.00, 0.951),
    (-0.86, 0.947), (-0.72, 0.953), (-0.58, 0.948), (-0.44, 0.952), (-0.30, 0.946), (-0.16, 0.951), (-0.02, 0.954),
    (0.12, 0.948), (0.26, 0.952), (0.40, 0.947), (0.54, 0.953), (0.68, 0.949), (0.82, 0.952), (0.96, 0.947),
    (1.10, 0.951), (1.20, 0.954), (-1.01, 0.963), (-0.87, 0.967), (-0.73, 0.962), (-0.59, 0.968), (-0.45, 0.964),
    (-0.31, 0.961), (-0.17, 0.966), (-0.03, 0.963), (0.11, 0.969), (0.25, 0.964), (0.39, 0.967), (0.53, 0.962),
    (0.67, 0.966), (0.81, 0.963), (0.95, 0.968), (1.09, 0.964), (1.23, 0.967), (-0.99, 0.981), (-0.85, 0.977),
    (-0.71, 0.983), (-0.57, 0.978), (-0.43, 0.982), (-0.29, 0.976), (-0.15, 0.981), (-0.01, 0.984), (0.13, 0.978),
    (0.27, 0.982), (0.41, 0.977), (0.55, 0.983), (0.69, 0.979), (0.83, 0.982), (0.97, 0.977), (1.11, 0.981),
    (1.25, 0.984), (-0.97, 0.993), (-0.83, 0.997), (-0.69, 0.992), (-0.55, 0.998), (-0.41, 0.994), (-0.27, 0.991),
    (-0.13, 0.996), (0.01, 0.993), (0.15, 0.999), (0.29, 0.994), (0.43, 0.997), (0.57, 0.992), (0.71, 0.996),
    (0.85, 0.993), (0.99, 0.998), (1.13, 0.994), (1.27, 0.997), (-0.95, 1.011), (-0.81, 1.007), (-0.67, 1.013),
    (-0.53, 1.008), (-0.39, 1.012), (-0.25, 1.006), (-0.11, 1.011), (0.03, 1.014), (0.17, 1.008), (0.31, 1.012),
    (0.45, 1.007), (0.59, 1.013), (0.73, 1.009), (0.87, 1.012), (1.01, 1.007), (1.15, 1.011), (1.29, 1.014),
    (-0.92, 1.023), (-0.78, 1.027), (-0.64, 1.022), (-0.50, 1.028), (-0.36, 1.024), (-0.22, 1.021), (-0.08, 1.026),
    (0.06, 1.023), (0.20, 1.029), (0.34, 1.024), (0.48, 1.027), (0.62, 1.022), (0.76, 1.026), (0.90, 1.023),
    (1.04, 1.028), (1.18, 1.024), (1.30, 1.027), (-0.87, 1.041), (-0.73, 1.037), (-0.59, 1.043), (-0.45, 1.038),
    (-0.31, 1.042), (-0.17, 1.036), (-0.03, 1.041), (0.11, 1.044), (0.25, 1.038), (0.39, 1.042), (0.53, 1.037),
    (0.67, 1.043), (0.81, 1.039), (0.95, 1.042), (1.09, 1.037), (1.23, 1.041), (-0.82, 1.053), (-0.68, 1.057),
    (-0.54, 1.052), (-0.40, 1.058), (-0.26, 1.054), (-0.12, 1.051), (0.02, 1.056), (0.16, 1.053), (0.30, 1.059),
    (0.44, 1.054), (0.58, 1.057), (0.72, 1.052), (0.86, 1.056), (1.00, 1.053), (1.14, 1.058), (1.27, 1.054),
    (-0.76, 1.071), (-0.62, 1.067), (-0.48, 1.073), (-0.34, 1.068), (-0.20, 1.072), (-0.06, 1.066), (0.08, 1.071),
    (0.22, 1.074), (0.36, 1.068), (0.50, 1.072), (0.64, 1.067), (0.78, 1.073), (0.92, 1.069), (1.06, 1.072),
    (1.20, 1.067), (-0.69, 1.083), (-0.55, 1.087), (-0.41, 1.082), (-0.27, 1.088), (-0.13, 1.084), (0.01, 1.081),
    (0.15, 1.086), (0.29, 1.083), (0.43, 1.089), (0.57, 1.084), (0.71, 1.087), (0.85, 1.082), (0.99, 1.086),
    (1.13, 1.083), (1.22, 1.088), (-0.61, 1.101), (-0.47, 1.097), (-0.33, 1.103), (-0.19, 1.098), (-0.05, 1.102),
    (0.09, 1.096), (0.23, 1.101), (0.37, 1.104), (0.51, 1.098), (0.65, 1.102), (0.79, 1.097), (0.93, 1.103),
    (1.07, 1.099), (1.17, 1.102), (-0.51, 1.113), (-0.37, 1.117), (-0.23, 1.112), (-0.09, 1.118), (0.05, 1.114),
    (0.19, 1.111), (0.33, 1.116), (0.47, 1.113), (0.61, 1.119), (0.75, 1.114), (0.89, 1.117), (1.03, 1.112),
    (1.12, 1.116), (-0.38, 1.131), (-0.24, 1.127), (-0.10, 1.133), (0.04, 1.128), (0.18, 1.132), (0.32, 1.126),
    (0.46, 1.131), (0.60, 1.134), (0.74, 1.128), (0.88, 1.132), (1.02, 1.127), (-0.23, 1.143), (-0.09, 1.147),
    (0.05, 1.142), (0.19, 1.148), (0.33, 1.144), (0.47, 1.141), (0.61, 1.146), (0.75, 1.143), (0.89, 1.148)]
subs_noninv_rows = [
    (0.8375, [-0.62, -0.49, -0.36, -0.21, -0.06, 0.07, 0.20, 0.35, 0.50]),
    (0.8525, [-0.64, -0.48, -0.35, -0.22, -0.07, 0.08, 0.21, 0.34, 0.49, 0.64]),
    (0.8675, [-0.76, -0.63, -0.50, -0.35, -0.20, -0.07, 0.06, 0.21, 0.36, 0.49, 0.62, 0.77]),
    (0.8825, [-0.78, -0.62, -0.49, -0.36, -0.21, -0.06, 0.07, 0.20, 0.35, 0.50, 0.63, 0.76, 0.90]),
    (0.8975, [-0.90, -0.77, -0.64, -0.48, -0.35, -0.22, -0.07, 0.08, 0.21, 0.34, 0.49, 0.64, 0.77, 0.92]),
    (0.9125, [-0.92, -0.76, -0.63, -0.50, -0.35, -0.20, -0.07, 0.06, 0.21, 0.36, 0.49, 0.62, 0.77, 0.91, 1.04]),
    (0.9275, [-0.91, -0.78, -0.62, -0.49, -0.36, -0.21, -0.06, 0.07, 0.20, 0.35, 0.50, 0.63, 0.76, 0.90, 1.06]),
    (0.9425, [-0.90, -0.77, -0.64, -0.48, -0.35, -0.22, -0.07, 0.08, 0.21, 0.34, 0.49, 0.64, 0.77, 0.92, 1.05,
              1.18]),
    (0.9575, [-0.92, -0.76, -0.63, -0.50, -0.35, -0.20, -0.07, 0.06, 0.21, 0.36, 0.49, 0.62, 0.77, 0.91, 1.04,
              1.20]),
    (0.9725, [-0.91, -0.78, -0.62, -0.49, -0.36, -0.21, -0.06, 0.07, 0.20, 0.35, 0.50, 0.63, 0.76, 0.90, 1.06,
              1.19]),
    (0.9875, [-0.90, -0.77, -0.64, -0.48, -0.35, -0.22, -0.07, 0.08, 0.21, 0.34, 0.49, 0.64, 0.77, 0.92, 1.05,
              1.18]),
    (1.0025, [-0.92, -0.76, -0.63, -0.50, -0.35, -0.20, -0.07, 0.06, 0.21, 0.36, 0.49, 0.62, 0.77, 0.91, 1.04,
              1.20]),
    (1.0175, [-0.91, -0.78, -0.62, -0.49, -0.36, -0.21, -0.06, 0.07, 0.20, 0.35, 0.50, 0.63, 0.76, 0.90, 1.06,
              1.19]),
    (1.0325, [-0.90, -0.77, -0.64, -0.48, -0.35, -0.22, -0.07, 0.08, 0.21, 0.34, 0.49, 0.64, 0.77, 0.92, 1.05,
              1.18]),
    (1.0475, [-0.76, -0.63, -0.50, -0.35, -0.20, -0.07, 0.06, 0.21, 0.36, 0.49, 0.62, 0.77, 0.91, 1.04, 1.20]),
    (1.0625, [-0.78, -0.62, -0.49, -0.36, -0.21, -0.06, 0.07, 0.20, 0.35, 0.50, 0.63, 0.76, 0.90, 1.06, 1.19]),
    (1.0775, [-0.64, -0.48, -0.35, -0.22, -0.07, 0.08, 0.21, 0.34, 0.49, 0.64, 0.77, 0.92, 1.05, 1.18]),
    (1.0925, [-0.63, -0.50, -0.35, -0.20, -0.07, 0.06, 0.21, 0.36, 0.49, 0.62, 0.77, 0.91, 1.04, 1.20]),
    (1.1075, [-0.49, -0.36, -0.21, -0.06, 0.07, 0.20, 0.35, 0.50, 0.63, 0.76, 0.90, 1.06]),
    (1.1225, [-0.35, -0.22, -0.07, 0.08, 0.21, 0.34, 0.49, 0.64, 0.77, 0.92, 1.05]),
    (1.1375, [-0.20, -0.07, 0.06, 0.21, 0.36, 0.49, 0.62, 0.77, 0.91]),
]
subs_chimp_inv = [
    (-2.77, 0.909), (-2.36, 0.921), (-2.42, 0.889), (-2.16, 1.015), (-0.98, 0.882), (-0.92, 0.847), (-1.11, 1.020),
    (-0.95, 1.021), (-0.18, 1.205), (1.03, 1.195), (1.88, 1.240), (0.20, 1.154), (-0.45, 1.127), (-0.35, 1.120),
    (0.83, 0.865), (0.05, 0.864), (1.55, 0.935), (1.61, 0.975), (1.51, 1.028), (1.52, 1.050), (1.13, 1.111),
    (-0.90, 1.02), (-0.75, 0.93), (-0.70, 0.94), (-0.65, 0.95), (-0.60, 1.06), (-0.60, 1.07), (-0.55, 0.97),
    (-0.50, 0.92), (-0.45, 0.94), (-0.42, 1.03), (-0.40, 1.00), (-0.35, 0.99), (-0.30, 0.96), (-0.28, 1.05),
    (-0.25, 0.93), (-0.20, 1.01), (-0.20, 0.92), (-0.15, 1.00), (-0.12, 0.96), (-0.10, 1.04), (-0.08, 0.89),
    (-0.05, 1.02), (-0.02, 0.98), (0.00, 1.06), (0.00, 0.90), (0.02, 1.03), (0.05, 1.00), (0.05, 0.95),
    (0.08, 1.08), (0.10, 0.99), (0.10, 0.91), (0.12, 1.04), (0.15, 0.97), (0.15, 1.13), (0.18, 1.02), (0.20, 0.93),
    (0.22, 1.05), (0.25, 0.99), (0.28, 1.12), (0.30, 0.96), (0.32, 1.01), (0.35, 1.07), (0.38, 0.98), (0.40, 1.04),
    (0.42, 1.13), (0.45, 0.99), (0.50, 1.02), (0.52, 1.06), (0.55, 0.95), (0.60, 1.06), (0.62, 1.00), (0.65, 1.03),
    (0.70, 0.95), (0.72, 1.10), (0.75, 0.98), (0.80, 1.03), (0.85, 0.91), (0.90, 1.10), (0.92, 1.09), (0.95, 1.00),
    (0.98, 0.99), (1.00, 1.06), (1.15, 0.99), (1.30, 0.99), (1.00, 1.02), (-0.30, 0.94), (0.25, 0.88), (0.45, 1.10),
    (-0.15, 1.07), (0.55, 1.08)]
subs_human_inv = [
    (-1.98, 0.617), (-1.72, 0.617), (-1.70, 0.642), (-1.48, 0.785), (-1.31, 0.746), (-0.38, 0.748), (-1.39, 0.866),
    (-0.88, 0.841), (-0.89, 0.819), (-0.42, 0.867), (-0.29, 0.855), (-0.82, 0.928), (-0.69, 0.974), (-0.41, 0.974),
    (-0.40, 1.043), (-0.35, 0.941), (-0.26, 0.950), (-0.14, 0.996), (-0.01, 0.964), (0.07, 1.096), (0.13, 1.016),
    (0.58, 1.023), (0.95, 1.062), (0.98, 0.991), (0.88, 0.984)]
subs_fusion = [
    (1.98, 1.399), (3.73, 1.330), (1.92, 1.257), (2.98, 1.241), (4.15, 1.167), (3.05, 1.110), (0.02, 1.209),
    (1.14, 1.159), (0.73, 1.134), (1.52, 1.134), (1.71, 1.138), (1.64, 1.129), (1.64, 1.172), (1.79, 1.106),
    (2.21, 1.089), (1.28, 1.087), (1.32, 1.077), (1.39, 1.054), (-0.06, 1.061), (-0.23, 1.040), (0.08, 1.036),
    (0.41, 1.032), (0.88, 1.009), (-0.18, 1.001), (-0.01, 0.975), (0.92, 0.952)]

poly_r = [0.39, 0.44, 0.38, 0.69]
subs_r = [0.24, 0.39, 0.83, 0.59]


def rows_to_points(rows):
    return [(x, y) for y, xs in rows for x in xs]


W, H = 1370, 1131
fig = plt.figure(figsize=(W / 100, H / 100), dpi=100)


def px_axes(left, top, right, bottom):
    return fig.add_axes([left / W, 1 - bottom / H, (right - left) / W, (bottom - top) / H])


def profile_panel(ax, series, ylim, yticks, xlabel, ylabel, leg_x, leg_y):
    for color, lx, ly, dy in series:
        ax.plot(dot_x, dy, ls="none", marker="o", ms=2.6, mew=0, color=color)
    handles = []
    for (color, lx, ly, dy), name in zip(series, ["Chimp", "Human"]):
        (h,) = ax.plot(lx, ly, color=color, lw=2.3, label=name, solid_joinstyle="round")
        handles.append(h)
    ax.set_xlim(-10, 10)
    ax.set_ylim(*ylim)
    ax.set_xticks(range(-10, 11, 2))
    ax.set_yticks(yticks)
    ax.yaxis.set_major_formatter(FormatStrFormatter("%.1f"))
    ax.tick_params(direction="in", top=True, right=True, length=5, width=1, labelsize=TICK_FS)
    ax.tick_params(axis="x", pad=3.5)
    ax.tick_params(axis="y", pad=4)
    ax.set_xlabel(xlabel, fontsize=LABEL_FS, labelpad=1)
    ax.set_ylabel(ylabel, fontsize=LABEL_FS, labelpad=6)
    for s in ax.spines.values():
        s.set_linewidth(1.1)
    ax.legend(handles=handles, loc="center left", bbox_to_anchor=(leg_x, leg_y), ncol=2, frameon=False,
              fontsize=LEG_FS, handlelength=1.0, handletextpad=0.25, columnspacing=0.34, borderpad=0,
              borderaxespad=0)


def flux_panel(ax, noninv, chimp_inv, human_inv, fusion, rs, ylim, yticks, ylabel, leg_x):
    groups = [
        (noninv, dict(marker="o", ms=6.3, mfc="none", mec=GRAY, mew=1.1), "Non-inverted"),
        (chimp_inv, dict(marker="+", ms=7, mec=BLUE, mew=1.2), "Chimp inverted"),
        (human_inv, dict(marker=(8, 2, 0), ms=7.5, mec=RED, mew=1.1), "Human inverted"),
        (fusion, dict(marker="v", ms=7.5, mfc="none", mec=GREEN, mew=1.1), "Fusion region"),
    ]
    handles = []
    for (pts, style, name), r in zip(groups, rs):
        xs = [p[0] for p in pts]
        ys = [p[1] for p in pts]
        (h,) = ax.plot(xs, ys, ls="none", label=f"{name}, r = {r:.2f}", **style)
        handles.append(h)
    ax.set_xlim(-5, 5)
    ax.set_ylim(*ylim)
    ax.set_xticks(range(-5, 6))
    ax.set_yticks(yticks)
    ax.yaxis.set_major_formatter(FormatStrFormatter("%.1f"))
    ax.spines["top"].set_visible(False)
    ax.spines["right"].set_visible(False)
    for s in ax.spines.values():
        s.set_linewidth(1.1)
    ax.tick_params(direction="in", length=5, width=1, labelsize=TICK_FS)
    ax.tick_params(axis="x", pad=5.5)
    ax.tick_params(axis="y", pad=4)
    ax.set_xlabel("Chimp rate - HapMap rate (cM/Mb)", fontsize=LABEL_FS, labelpad=1.5)
    ax.set_ylabel(ylabel, fontsize=LABEL_FS, labelpad=6)
    ax.legend(handles=handles, loc="upper left", bbox_to_anchor=(leg_x, 1.0072), frameon=False, fontsize=LEG_FS,
              handlelength=0.6, handletextpad=0.18, labelspacing=0.107, markerscale=0.7, borderpad=0,
              borderaxespad=0, numpoints=1)


ax_a1 = px_axes(81.5, 36.7, 661.5, 227.7)
profile_panel(ax_a1, [(RED, a_poly_chimp_x, a_poly_chimp_y, a_poly_chimp_dots),
                      (BLUE, a_poly_human_x, a_poly_human_y, a_poly_human_dots)],
              (0.602, 1.097), [0.7, 0.8, 0.9, 1.0], "Distance from human hotspot centre (kb)", "Poly. skew",
              0.023, 0.862)
ax_a2 = px_axes(757.5, 36.7, 1338.5, 227.7)
profile_panel(ax_a2, [(RED, a_subs_chimp_x, a_subs_chimp_y, a_subs_chimp_dots),
                      (BLUE, a_subs_human_x, a_subs_human_y, a_subs_human_dots)],
              (0.75, 1.098), [0.8, 0.9, 1.0], "Distance from human hotspot centre (kb)", "Subs. skew",
              0.026, 0.862)
ax_b1 = px_axes(81.5, 328.3, 661.5, 518.7)
profile_panel(ax_b1, [(RED, b_poly_chimp_x, b_poly_chimp_y, b_poly_chimp_dots),
                      (BLUE, b_poly_human_x, b_poly_human_y, b_poly_human_dots)],
              (0.6, 0.998), [0.7, 0.8, 0.9], "Distance from chimp hotspot centre (kb)", "Poly. skew",
              0.023, 0.877)
ax_b2 = px_axes(757.5, 328.3, 1338.5, 518.7)
profile_panel(ax_b2, [(RED, b_subs_chimp_x, b_subs_chimp_y, b_subs_chimp_dots),
                      (BLUE, b_subs_human_x, b_subs_human_y, b_subs_human_dots)],
              (0.802, 1.148), [0.9, 1.0, 1.1], "Distance from chimp hotspot centre (kb)", "Subs. skew",
              0.026, 0.877)

ax_c1 = px_axes(81.5, 612.4, 663.5, 1069.6)
flux_panel(ax_c1, poly_noninv + poly_noninv_core + rows_to_points(poly_noninv_rows), poly_chimp_inv,
           poly_human_inv, poly_fusion, poly_r, (0.405, 1.995), [0.6, 0.8, 1.0, 1.2, 1.4, 1.6, 1.8],
           "Polymorphism flux ratio", 0.020)
ax_c2 = px_axes(757.5, 612.4, 1338.5, 1069.6)
flux_panel(ax_c2, subs_noninv + subs_noninv_core + rows_to_points(subs_noninv_rows), subs_chimp_inv,
           subs_human_inv, subs_fusion, subs_r, (0.6, 1.5), [0.7, 0.8, 0.9, 1.0, 1.1, 1.2, 1.3, 1.4],
           "Substitution flux ratio", 0.018)

for letter, ybase in [("a", 34), ("b", 325), ("c", 621)]:
    fig.text(9 / W, 1 - ybase / H, letter, fontsize=32, fontweight="bold", va="baseline", ha="left")

fig.savefig("out.png", dpi=100)
